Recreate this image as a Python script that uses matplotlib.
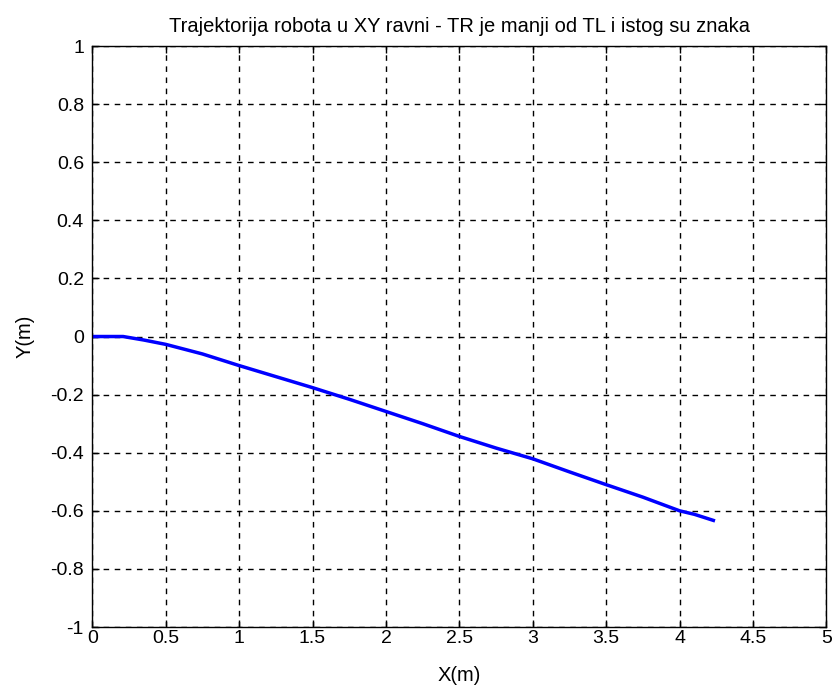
import numpy as np
import matplotlib.pyplot as plt

# trajektorija robota, procitano sa slike
x = [0.0, 0.1, 0.21, 0.35, 0.5, 0.75, 1.0, 1.25, 1.5, 1.75, 2.0, 2.25, 2.5,
     2.75, 3.0, 3.25, 3.5, 3.75, 4.0, 4.1, 4.23]
y = [0.0, 0.0, 0.0, -0.012, -0.027, -0.06, -0.10, -0.138, -0.176, -0.216,
     -0.258, -0.30, -0.344, -0.384, -0.421, -0.466, -0.51, -0.553, -0.60,
     -0.612, -0.633]

xticks = [0, 0.5, 1, 1.5, 2, 2.5, 3, 3.5, 4, 4.5, 5]
yticks = [-1, -0.8, -0.6, -0.4, -0.2, 0, 0.2, 0.4, 0.6, 0.8, 1]

plt.rcParams['font.family'] = ['Liberation Sans', 'DejaVu Sans']

fig = plt.figure(figsize=(8.39, 6.9), dpi=100)
ax = fig.add_axes([0.110, 0.0913, 0.875, 0.842])

ax.plot(x, y, color='#0000ff', linewidth=2.5)

ax.set_xlim(0, 5)
ax.set_ylim(-1, 1)
ax.set_xticks(xticks)
ax.set_yticks(yticks)
ax.set_xticklabels(['%g' % t for t in xticks])
ax.set_yticklabels(['%g' % t for t in yticks])
ax.tick_params(direction='in', length=5, labelsize=14, width=1,
               top=True, right=True)
ax.tick_params(axis='x', pad=2.5)
ax.tick_params(axis='y', pad=6)
ax.grid(True, color='black', linestyle=(0, (4, 4)), linewidth=1)

for s in ax.spines.values():
    s.set_linewidth(1)

ax.set_title("Trajektorija robota u XY ravni - TR je manji od TL i istog su znaka",
             fontsize=14.5, pad=10)
ax.set_xlabel("X(m)", fontsize=14.5, va='center')
ax.set_ylabel("Y(m)", fontsize=14.5, va='center')
ax.xaxis.set_label_coords(0.5, -0.084)
ax.yaxis.set_label_coords(-0.092, 0.5)

fig.savefig("out.png", dpi=100)
